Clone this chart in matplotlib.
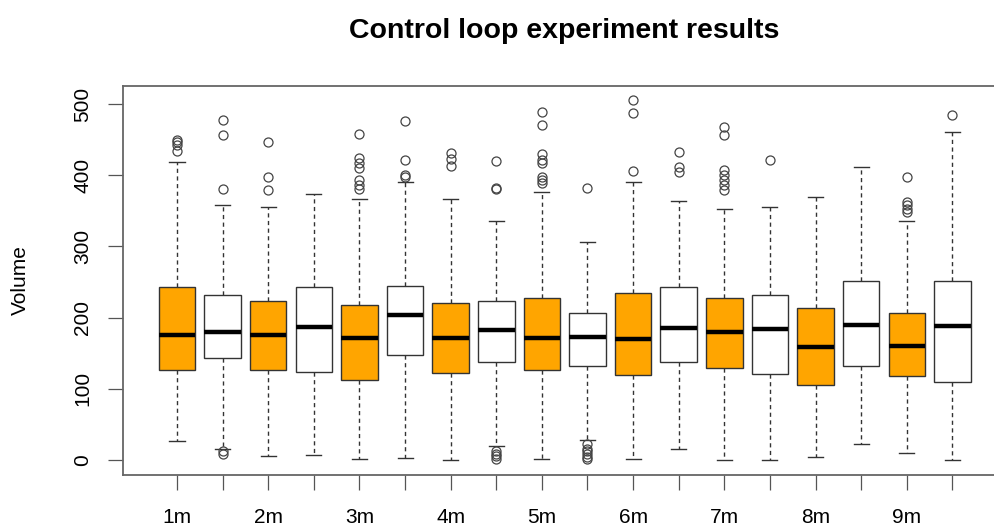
import numpy as np
import matplotlib
matplotlib.use("Agg")
import matplotlib.pyplot as plt

plt.rcParams['font.family'] = ['Liberation Sans', 'DejaVu Sans']

# 18 boxes: pairs of (orange, white) per minute setting
labels = ['1m', '', '2m', '', '3m', '', '4m', '', '5m', '',
          '6m', '', '7m', '', '8m', '', '9m', '']
q1 = [126, 143, 127, 123, 112, 147, 122, 137, 126, 132, 119, 137, 129, 121, 105, 132, 118, 110]
med = [176, 180, 176, 187, 172, 203, 171, 183, 172, 173, 170, 186, 180, 184, 159, 190, 160, 188]
q3 = [243, 232, 224, 243, 217, 245, 220, 223, 228, 206, 234, 243, 228, 232, 214, 251, 206, 251]
whislo = [26, 16, 6, 7, 2, 3, 0, 20, 2, 28, 2, 16, 0, 0, 4, 22, 10, 0]
whishi = [419, 358, 355, 374, 367, 390, 367, 336, 376, 306, 390, 364, 353, 355, 370, 412, 336, 460]
fliers = [
    [449, 446, 442, 434],
    [477, 456, 380, 12, 9],
    [447, 398, 379],
    [],
    [458, 424, 417, 410, 393, 386, 380],
    [476, 422, 400, 397],
    [431, 423, 413],
    [420, 382, 380, 12, 8, 5, 2],
    [489, 470, 430, 421, 417, 398, 393, 389],
    [382, 22, 16, 12, 8, 4, 1],
    [506, 487, 406],
    [432, 411, 405],
    [468, 456, 407, 400, 393, 386, 379],
    [421],
    [],
    [],
    [398, 363, 358, 353, 349],
    [485],
]
colors = ['orange', 'white'] * 9

stats = []
for i in range(len(med)):
    stats.append(dict(med=med[i], q1=q1[i], q3=q3[i], whislo=whislo[i],
                      whishi=whishi[i], fliers=fliers[i]))

fig = plt.figure(figsize=(9.95, 5.32), dpi=100)
ax = fig.add_axes([123 / 995, 57 / 532, 885 / 995, 389 / 532])

pos = np.arange(1, len(med) + 1)
bp = ax.bxp(stats, positions=pos, widths=0.8, patch_artist=True,
            capwidths=0.33,
            boxprops=dict(edgecolor='#333333', linewidth=1.0),
            medianprops=dict(color='black', linewidth=3.2, solid_capstyle='butt'),
            whiskerprops=dict(color='#333333', linewidth=1.0, linestyle=(0, (3, 2.5))),
            capprops=dict(color='#333333', linewidth=1.0),
            flierprops=dict(marker='o', markersize=6.5, markerfacecolor='none',
                            markeredgecolor='#444444', markeredgewidth=0.9))
for patch, c in zip(bp['boxes'], colors):
    patch.set_facecolor(c)

ax.set_xlim(-0.184, 19.22)
ax.set_ylim(-21.1, 525.3)
ax.set_xticks(pos)
ax.set_xticklabels(labels, fontsize=15)
ax.set_yticks([0, 100, 200, 300, 400, 500])
ax.set_yticklabels(['0', '100', '200', '300', '400', '500'], fontsize=15,
                   rotation=90, va='center')
ax.tick_params(axis='x', length=11, width=0.9, color='#555555', pad=13)
ax.tick_params(axis='y', length=11, width=0.9, color='#555555', pad=11)
for s in ax.spines.values():
    s.set_color('#666666')
    s.set_linewidth(1.3)

ax.set_ylabel('Volume', fontsize=15, labelpad=31)
fig.text(564 / 995, 1 - 31 / 532, 'Control loop experiment results',
         fontsize=20.5, fontweight='bold', ha='center', va='center')

fig.savefig('out.png', dpi=100)
